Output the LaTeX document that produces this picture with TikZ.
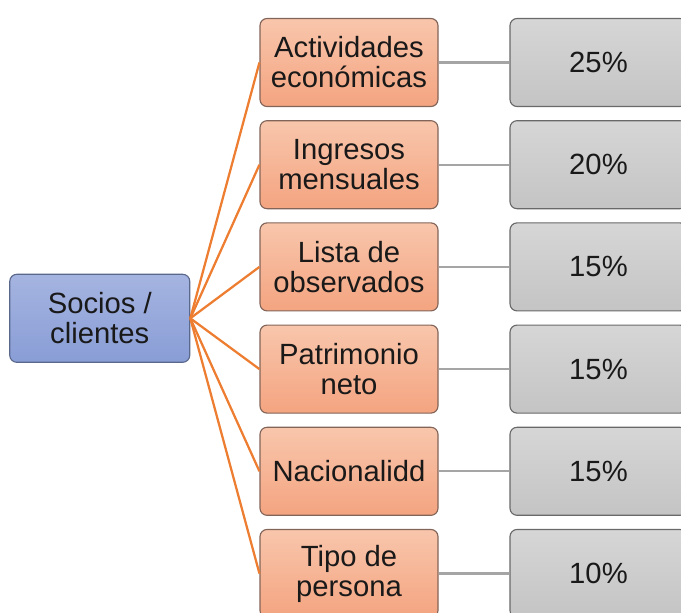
\documentclass[tikz,border=0pt]{standalone}
\usepackage{fontspec}
\setmainfont{Liberation Sans}
\usepackage{tikz}
\usetikzlibrary{positioning, calc}

\definecolor{rootblue}{RGB}{165, 180, 224}
\definecolor{rootblue2}{RGB}{137, 157, 214}
\definecolor{rootedge}{RGB}{90, 104, 140}
\definecolor{itemorange}{RGB}{248, 198, 172}
\definecolor{itemorange2}{RGB}{244, 164, 128}
\definecolor{itemedge}{RGB}{130, 100, 88}
\definecolor{valgray}{RGB}{214, 214, 214}
\definecolor{valgray2}{RGB}{196, 196, 196}
\definecolor{valedge}{RGB}{105, 105, 105}
\definecolor{linkorange}{RGB}{237, 125, 49}
\definecolor{linkgray}{RGB}{165, 165, 165}

\begin{document}
\begin{tikzpicture}[
  box/.style={rounded corners=5pt, align=center, inner sep=2pt, line width=0.8pt,
    font=\fontsize{20.8}{21.3}\selectfont, text=black!90},
  rootbox/.style={box, draw=rootedge, top color=rootblue, bottom color=rootblue2,
    minimum width=4.5cm, minimum height=2.2cm},
  itembox/.style={box, draw=itemedge, top color=itemorange, bottom color=itemorange2,
    minimum width=4.45cm, minimum height=2.2cm},
  valbox/.style={box, draw=valedge, top color=valgray, bottom color=valgray2,
    minimum width=4.425cm, minimum height=2.2cm},
  orangelink/.style={draw=linkorange, line width=1.6pt},
  graylink/.style={draw=linkgray, line width=1.6pt}
]
  \clip (0, 0) rectangle (17.025, -15.325);

  \node[rootbox] (root) at (2.494, -7.9575) {Socios /\\clientes};

  \node[itembox] (act) at (8.725, -1.5625) {Actividades\\económicas};
  \node[itembox] (ing) at (8.725, -4.1175) {Ingresos\\mensuales};
  \node[itembox] (lis) at (8.725, -6.6725) {Lista de\\observados};
  \node[itembox] (pat) at (8.725, -9.2275) {Patrimonio\\neto};
  \node[itembox] (nac) at (8.725, -11.7825) {Nacionalidd};
  \node[itembox] (tip) at (8.725, -14.3375) {Tipo de\\persona};

  % weights
  \node[valbox] (vact) at (14.9625, -1.5625) {25\%};
  \node[valbox] (ving) at (14.9625, -4.1175) {20\%};
  \node[valbox] (vlis) at (14.9625, -6.6725) {15\%};
  \node[valbox] (vpat) at (14.9625, -9.2275) {15\%};
  \node[valbox] (vnac) at (14.9625, -11.7825) {15\%};
  \node[valbox] (vtip) at (14.9625, -14.3375) {10\%};

  \draw[orangelink] (root.east) -- (act.west);
  \draw[orangelink] (root.east) -- (ing.west);
  \draw[orangelink] (root.east) -- (lis.west);
  \draw[orangelink] (root.east) -- (pat.west);
  \draw[orangelink] (root.east) -- (nac.west);
  \draw[orangelink] (root.east) -- (tip.west);

  \draw[graylink] (act) -- (vact);
  \draw[graylink] (ing) -- (ving);
  \draw[graylink] (lis) -- (vlis);
  \draw[graylink] (pat) -- (vpat);
  \draw[graylink] (nac) -- (vnac);
  \draw[graylink] (tip) -- (vtip);
\end{tikzpicture}
\end{document}
